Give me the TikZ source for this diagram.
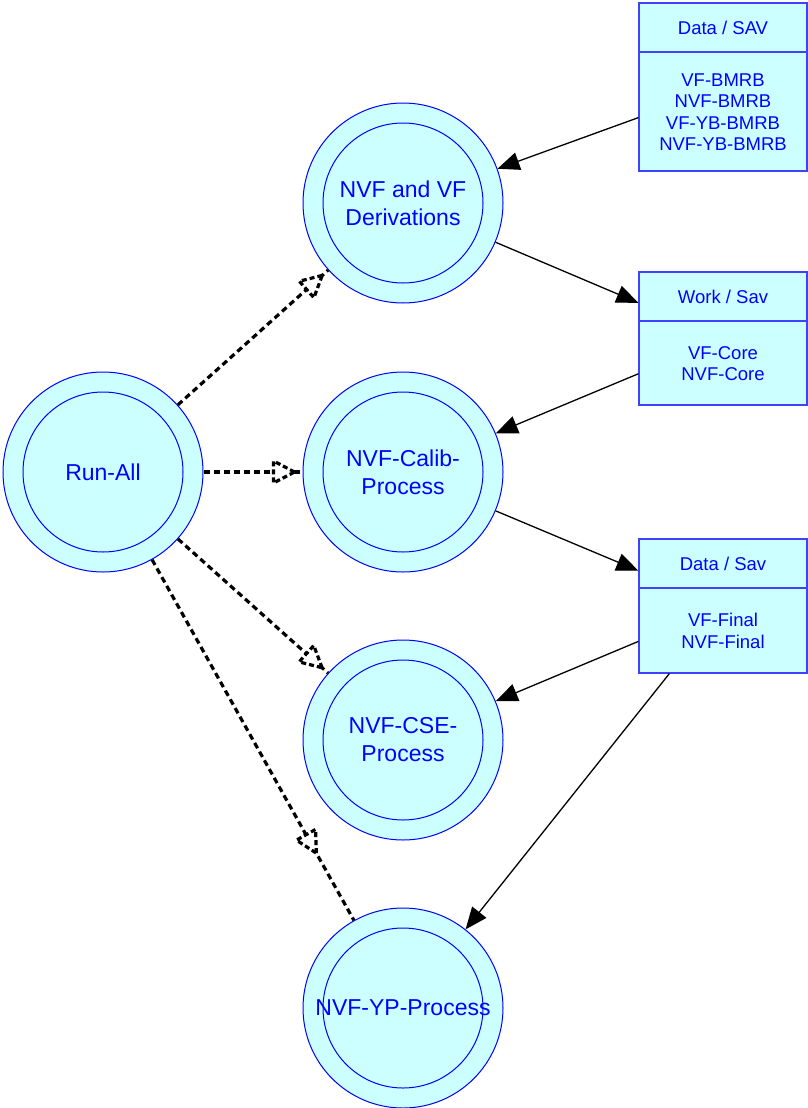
\documentclass[tikz,border=0pt]{standalone}
\usepackage{fontspec}
\setmainfont{Liberation Sans}
\usetikzlibrary{arrows.meta}
\usetikzlibrary{decorations.markings}
\usetikzlibrary{calc}

\definecolor{procblue}{RGB}{0,0,255}
\definecolor{procfill}{RGB}{204,255,255}
\definecolor{storeline}{RGB}{64,64,255}

\tikzset{
  proc/.style={circle, draw=procblue, fill=procfill, line width=1pt,
    minimum size=200pt, inner sep=0pt, align=center, text=procblue,
    font=\fontsize{23}{28}\selectfont,
    path picture={\draw[procblue, line width=1pt]
      (path picture bounding box.center) circle (80pt);}},
  store/.style={rectangle, draw=storeline, fill=procfill, line width=1.2pt,
    minimum width=168pt, inner sep=0pt},
  storehead/.style={store, anchor=north, minimum height=49pt, text=procblue,
    font=\fontsize{18.5}{21.5}\selectfont},
  storetext/.style={align=center, text=procblue, inner sep=0pt,
    font=\fontsize{18.5}{21.5}\selectfont},
  feed/.style={black, line width=1.3pt, -{Triangle[length=22pt,width=18pt]}},
  flow/.style={black, line width=3.2pt, dash pattern=on 6pt off 4pt,
    decoration={markings, mark=at position #1 with {
      \draw[line width=3.2pt, dash pattern=on 5pt off 3pt, fill=white]
        (0pt,0pt) -- (-21pt,11pt) -- (-21pt,-11pt) -- cycle;}},
    postaction={decorate}},
  flow/.default=-8pt
}

\begin{document}
\begin{tikzpicture}[x=1pt,y=-1pt]
\useasboundingbox (0,0) rectangle (808,1108);

% Processes
\node[proc] (runall) at (103,472) {Run-All};
\node[proc] (deriv) at (403,203) {NVF and VF\\Derivations};
\node[proc] (calib) at (403,472) {NVF-Calib-\\Process};
\node[proc] (cse) at (403,740) {NVF-CSE-\\Process};
\node[proc] (yp) at (403,1008) {NVF-YP-Process};

% Data stores
\node[store, minimum height=168pt] (sav1) at (723,87) {};
\node[storehead] (sav1h) at (sav1.north) {Data / SAV};
\node[storetext] at ($(sav1h.south)!.5!(sav1.south)$) {VF-BMRB\\NVF-BMRB\\VF-YB-BMRB\\NVF-YB-BMRB};

\node[store, minimum height=133pt] (sav2) at (723,338.5) {};
\node[storehead] (sav2h) at (sav2.north) {Work / Sav};
\node[storetext] at ($(sav2h.south)!.5!(sav2.south)$) {VF-Core\\NVF-Core};

\node[store, minimum height=134pt] (sav3) at (723,606) {};
\node[storehead] (sav3h) at (sav3.north) {Data / Sav};
\node[storetext] at ($(sav3h.south)!.5!(sav3.south)$) {VF-Final\\NVF-Final};

% Calls
\draw[flow] (runall) -- (deriv);
\draw[flow] (runall) -- (calib);
\draw[flow] (runall) -- (cse);
\draw[flow=-77pt] (runall) -- (yp);

% Data flow
\draw[feed] (sav1) -- (deriv);
\draw[feed] (deriv) -- (sav2);
\draw[feed] (sav2) -- (calib);
\draw[feed] (calib) -- (sav3);
\draw[feed] (sav3) -- (cse);
\draw[feed] (sav3) -- (yp);
\end{tikzpicture}
\end{document}
